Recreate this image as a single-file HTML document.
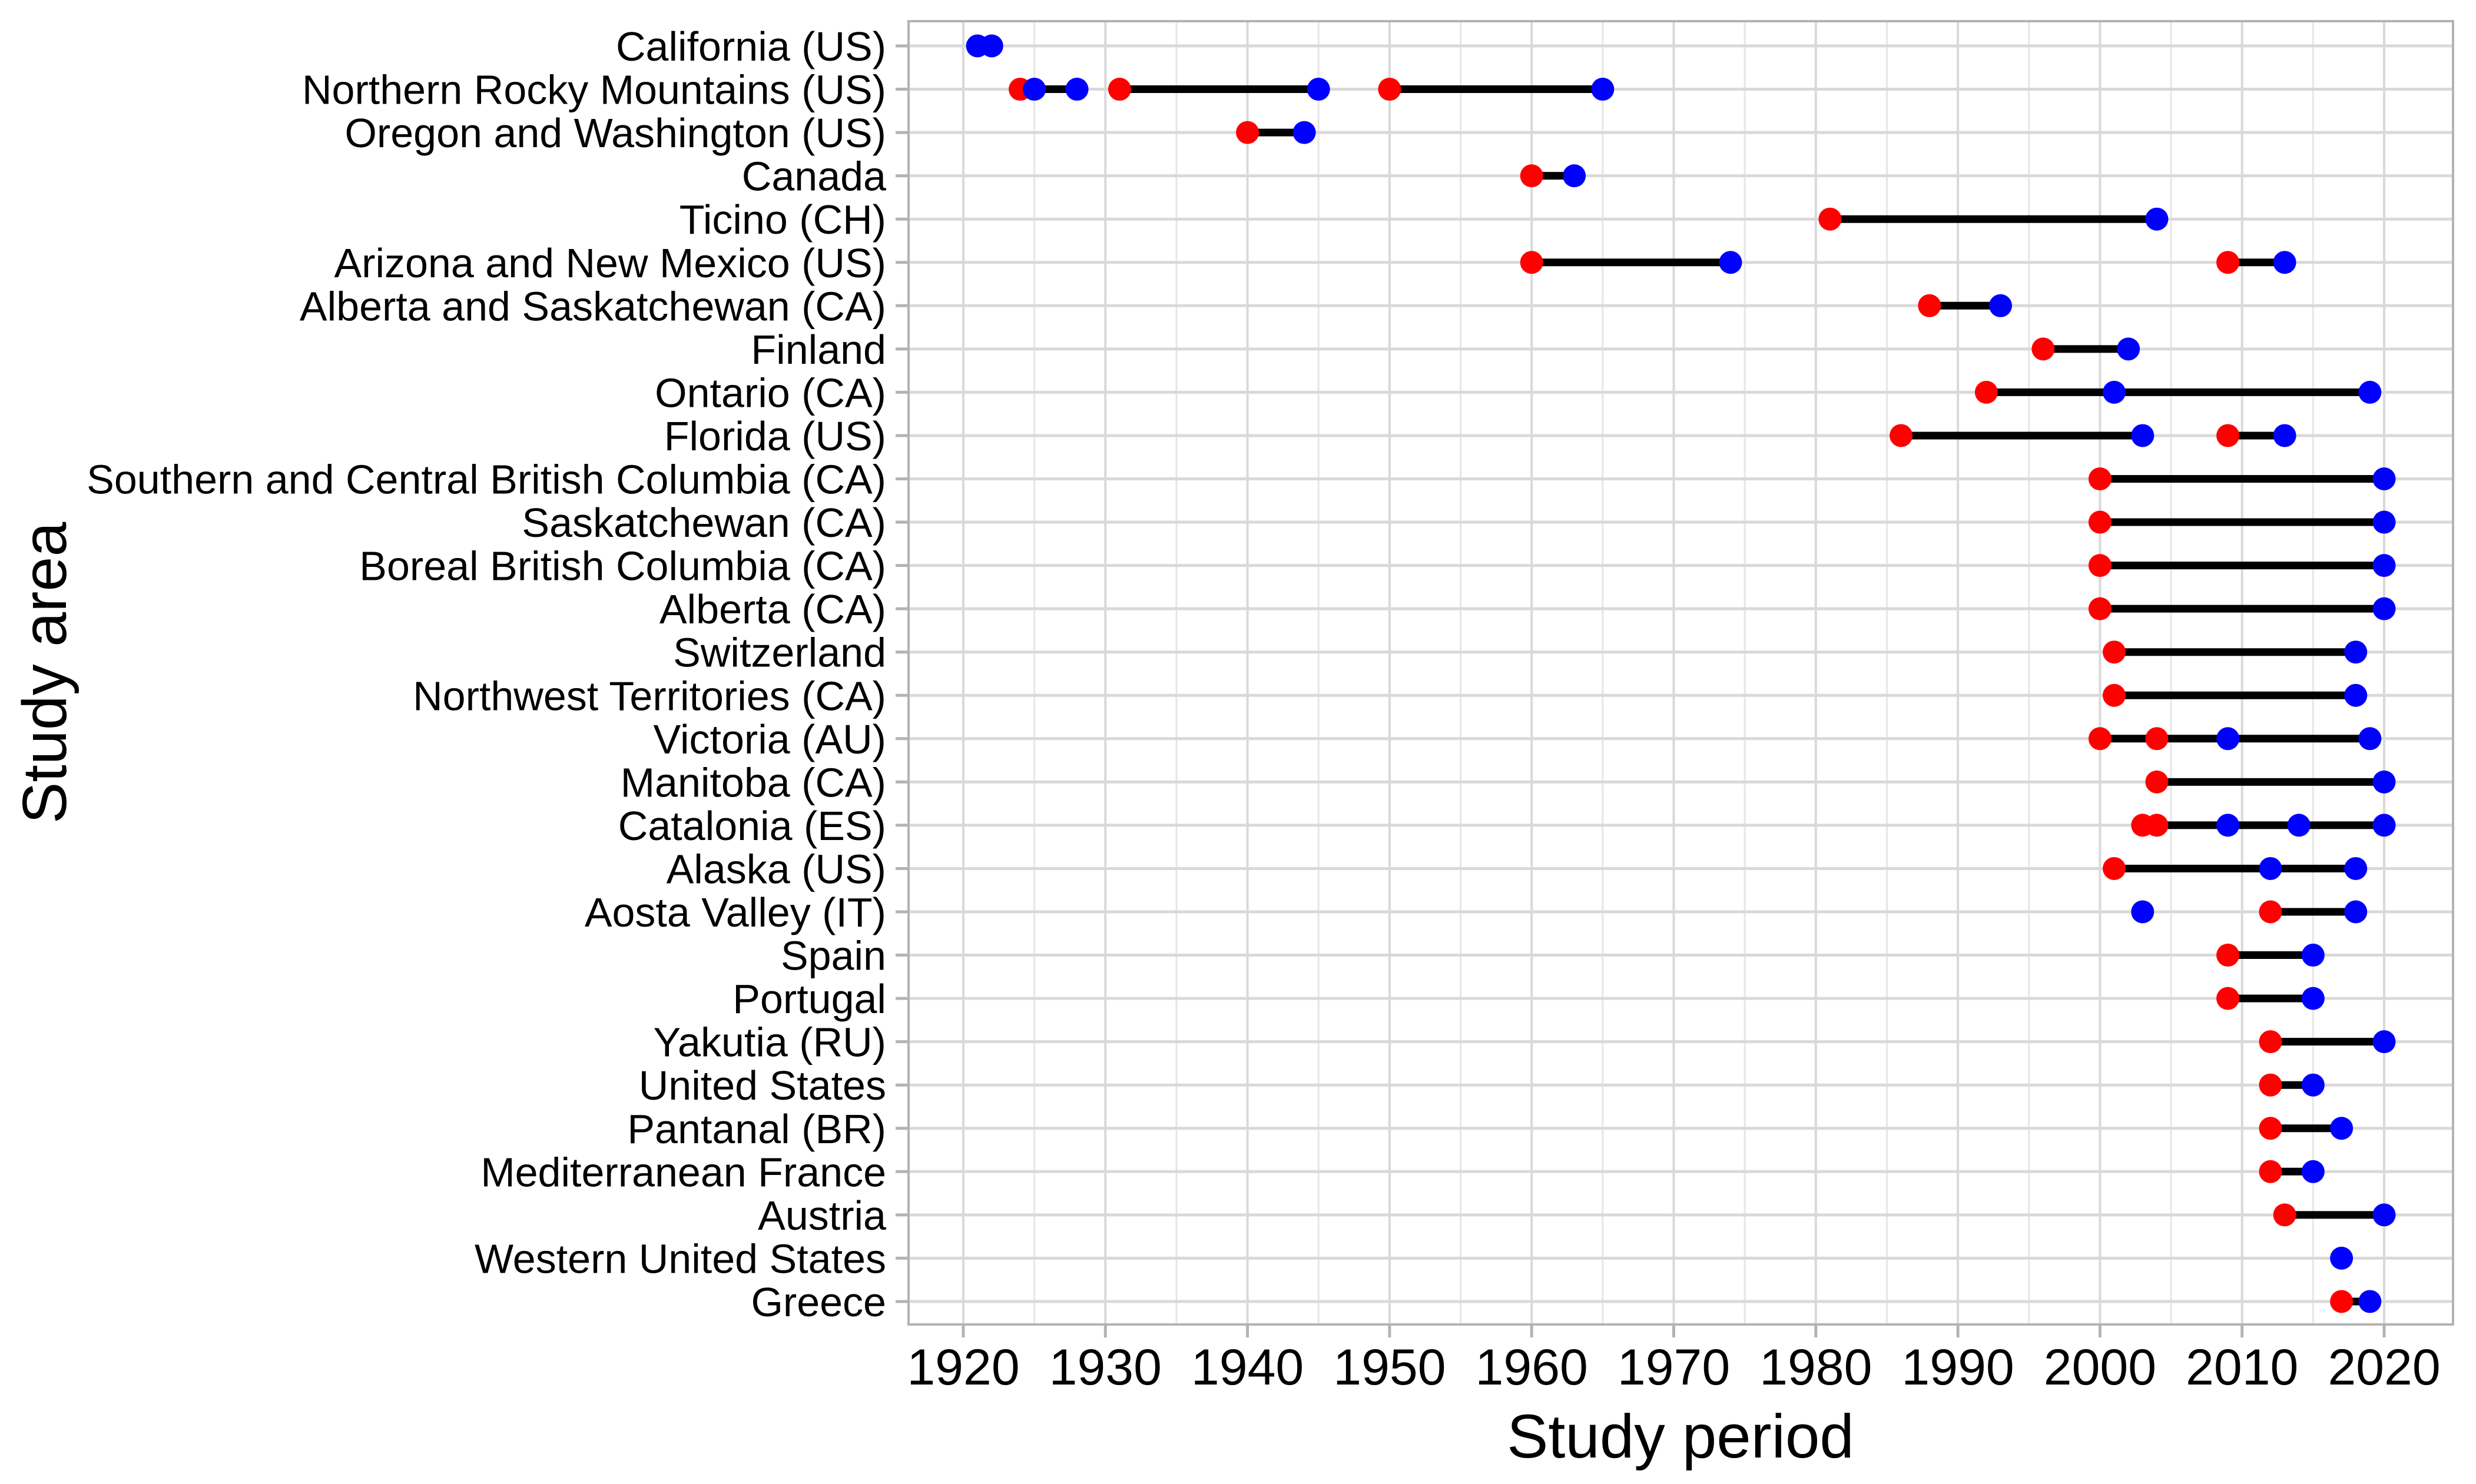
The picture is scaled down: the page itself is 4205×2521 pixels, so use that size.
<!DOCTYPE html>
<html><head><meta charset="utf-8"><style>
html,body{margin:0;padding:0;background:#fff}
svg{display:block;font-family:"Liberation Sans",sans-serif}
</style></head><body>
<svg id="chart" width="4205" height="2521" viewBox="0 0 4205 2521" xmlns="http://www.w3.org/2000/svg">
<rect x="0" y="0" width="4205" height="2521" fill="#fff"/>
<g id="grid"></g>
<g id="marks"></g>
<rect x="1543" y="36" width="2623" height="2214" fill="none" stroke="#b3b3b3" stroke-width="4"/>
<g id="axes"></g>
<text x="2854" y="2476" font-size="105" text-anchor="middle" fill="#000">Study period</text>
<text x="0" y="0" font-size="106" text-anchor="middle" fill="#000" transform="translate(112,1143) rotate(-90)">Study area</text>
</svg>
<script>
const categories = ["California (US)","Northern Rocky Mountains (US)","Oregon and Washington (US)","Canada","Ticino (CH)","Arizona and New Mexico (US)","Alberta and Saskatchewan (CA)","Finland","Ontario (CA)","Florida (US)","Southern and Central British Columbia (CA)","Saskatchewan (CA)","Boreal British Columbia (CA)","Alberta (CA)","Switzerland","Northwest Territories (CA)","Victoria (AU)","Manitoba (CA)","Catalonia (ES)","Alaska (US)","Aosta Valley (IT)","Spain","Portugal","Yakutia (RU)","United States","Pantanal (BR)","Mediterranean France","Austria","Western United States","Greece"];
const xTicks = [1920,1930,1940,1950,1960,1970,1980,1990,2000,2010,2020];
const segRow = [2,2,2,3,4,5,6,6,7,8,9,10,10,11,12,13,14,15,16,17,18,19,20,21,22,23,24,25,26,27,28,30];
const segStart = [1924,1931,1950,1940,1960,1981,1960,2009,1988,1996,1992,1986,2009,2000,2000,2000,2000,2001,2001,2000,2004,2003,2001,2012,2009,2009,2012,2012,2012,2012,2013,2017];
const segEnd = [1928,1945,1965,1944,1963,2004,1974,2013,1993,2002,2019,2003,2013,2020,2020,2020,2020,2018,2018,2019,2020,2020,2018,2018,2015,2015,2020,2015,2017,2015,2020,2019];
const redRow = [2,2,2,3,4,5,6,6,7,8,9,10,10,11,12,13,14,15,16,17,17,18,19,19,20,21,22,23,24,25,26,27,28,30];
const redYear = [1924,1931,1950,1940,1960,1981,1960,2009,1988,1996,1992,1986,2009,2000,2000,2000,2000,2001,2001,2000,2004,2004,2003,2004,2001,2012,2009,2009,2012,2012,2012,2012,2013,2017];
const blueRow = [1,1,2,2,2,2,3,4,5,6,6,7,8,9,9,10,10,11,12,13,14,15,16,17,17,18,19,19,19,20,20,21,21,22,23,24,25,26,27,28,29,30];
const blueYear = [1921,1922,1925,1928,1945,1965,1944,1963,2004,1974,2013,1993,2002,2001,2019,2003,2013,2020,2020,2020,2020,2018,2018,2009,2019,2020,2009,2014,2020,2012,2018,2003,2018,2015,2015,2020,2015,2017,2015,2020,2017,2019];

const NS = "http://www.w3.org/2000/svg";
const px = y => 1636 + (y - 1920) * (4049 - 1636) / 100;
const py = r => 78 + (r - 1) * 73.55;
function mk(parent, tag, attrs){const e=document.createElementNS(NS,tag);for(const k in attrs)e.setAttribute(k,attrs[k]);parent.appendChild(e);return e;}
const grid=document.getElementById('grid'), marks=document.getElementById('marks'), axes=document.getElementById('axes');
for(let y=1915;y<=2025;y+=5){
  const x=px(y); if(x<1545||x>4164) continue;
  const major = y%10===0;
  const l=mk(grid,'line',{x1:x,x2:x,y1:36,y2:2250,stroke:major?'#d9d9d9':'#e6e6e6','stroke-width':major?4:3});
  
  
}
categories.forEach((c,i)=>{
  const y=py(i+1);
  const l=mk(grid,'line',{x1:1543,x2:4166,y1:y,y2:y,stroke:'#d9d9d9','stroke-width':5});
  
  
  const t=mk(axes,'line',{x1:1521,x2:1543,y1:y,y2:y,stroke:'#b3b3b3','stroke-width':5});
  
  
  const tx=mk(axes,'text',{x:1505,y:y+25,'font-size':70,'text-anchor':'end',fill:'#000'});
  tx.textContent=c;
  
  
});
xTicks.forEach(v=>{
  const x=px(v);
  const t=mk(axes,'line',{x1:x,x2:x,y1:2250,y2:2272,stroke:'#b3b3b3','stroke-width':5});
  
  
  const tx=mk(axes,'text',{x:x,y:2352,'font-size':86,'text-anchor':'middle',fill:'#000'});
  tx.textContent=v;
  
  
});
segRow.forEach((r,i)=>{
  const l=mk(marks,'line',{x1:px(segStart[i]),x2:px(segEnd[i]),y1:py(r),y2:py(r),stroke:'#000','stroke-width':13});
  
  
});
redRow.forEach((r,i)=>{
  const c=mk(marks,'circle',{cx:px(redYear[i]),cy:py(r),r:19.5,fill:'#ff0000'});
  
  
});
blueRow.forEach((r,i)=>{
  const c=mk(marks,'circle',{cx:px(blueYear[i]),cy:py(r),r:19.5,fill:'#0000ff'});
  
  
});
</script>
</body></html>
